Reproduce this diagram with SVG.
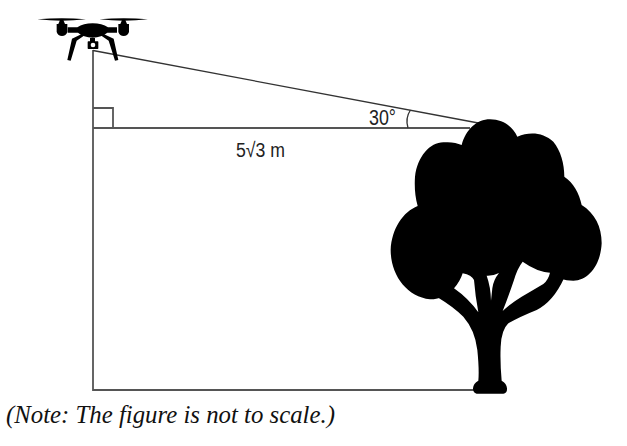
<svg xmlns="http://www.w3.org/2000/svg" width="627" height="446" viewBox="0 0 627 446">
<style>
.ln{fill:none;stroke:#555;stroke-width:1.8}
.thin{fill:none;stroke:#333;stroke-width:1.3}
.lab{font-family:"Liberation Sans",Arial,sans-serif;fill:#222}
.k{fill:#000}
.w{fill:#fff}
</style>
<rect width="627" height="446" fill="#fff"/>
<g id="connectors">
<path class="ln" d="M93 50V390H474"/>
<path class="ln" d="M93 128H470"/>
<path class="thin" d="M93 50.500L481 123.500"/>
<path class="ln" d="M93 108H113V128"/>
<path class="thin" d="M410.500 110Q405 118 408 128"/>
</g>
<g id="drone" transform="translate(20 0) scale(.33333)">
<path class="k" d="M52 58Q90 55 125 55Q160 55 198 58Q160 62 125 62Q90 62 52 58Z"/>
<path class="k" d="M238 58Q275 55 311 55Q347 55 384 58Q347 62 311 62Q275 62 238 58Z"/>
<path class="k" d="M120 60h10l5 12h-20Z"/>
<path class="k" d="M306 60h10l5 12h-20Z"/>
<path class="k" d="M110 72H142V96Q138 108 126 108Q114 108 110 96Z"/>
<path class="k" d="M295 72H327V96Q323 108 311 108Q299 108 295 96Z"/>
<path class="k" d="M143 82H172Q190 70 218 70Q246 70 264 82H291V98H262Q245 112 218 113Q190 112 174 98H143Z"/>
<path class="k" d="M190 100L194 106L170 122L152 182L142 180L156 116Z"/>
<path class="k" d="M246 100L242 106L266 122L285 182L295 180L281 116Z"/>
<rect class="k" x="210" y="114" width="15" height="12"/>
<rect class="k" x="203" y="124" width="32" height="23" rx="2"/>
<circle class="w" cx="219" cy="135" r="7"/>
</g>
<g id="tree" transform="translate(380 110) scale(.33333)">
<path class="k" d="M245 105C258 58 290 28 330 28C370 28 398 50 412 80C450 64 490 68 520 95C542 122 553 160 553 200C580 218 598 250 605 285C645 310 665 350 665 400C662 465 625 512 580 512C552 512 530 503 510 488C480 485 452 475 428 455L240 500L232 530C210 555 180 568 150 568C80 560 32 495 32 420C35 355 70 305 113 288C105 260 103 230 105 200C112 140 150 97 190 97C212 95 230 98 245 105Z"/>
<path class="k" d="M170 560Q220 590 250 620Q285 660 292 720Q298 780 295 812Q280 820 279 835Q279 850 290 851H370Q382 850 381 835Q380 820 365 812Q360 760 362 710Q364 660 385 640Q420 620 470 600Q520 575 552 505L500 440L240 480Z"/>
<path class="w" d="M248 490Q275 495 282 510Q286 560 295 607Q265 565 222 535Q240 515 248 490Z"/>
<path class="w" d="M320 497Q340 498 357 489Q340 510 337 535L333 572Q332 530 320 497Z"/>
<path class="w" d="M428 455Q470 485 510 488Q505 510 490 522Q460 540 425 560Q395 578 368 603Q385 560 402 510Q412 475 428 455Z"/>
</g>
<g id="labels">
<text class="lab" x="369" y="125" font-size="22" textLength="27" lengthAdjust="spacingAndGlyphs">30°</text>
<text class="lab" x="236" y="157" font-size="20.500" textLength="49" lengthAdjust="spacingAndGlyphs">5√3 m</text>
<text x="6" y="423" font-family="Liberation Serif,Times New Roman,serif" font-style="italic" font-size="24.800" fill="#111">(Note: The figure is not to scale.)</text>
</g>
</svg>
